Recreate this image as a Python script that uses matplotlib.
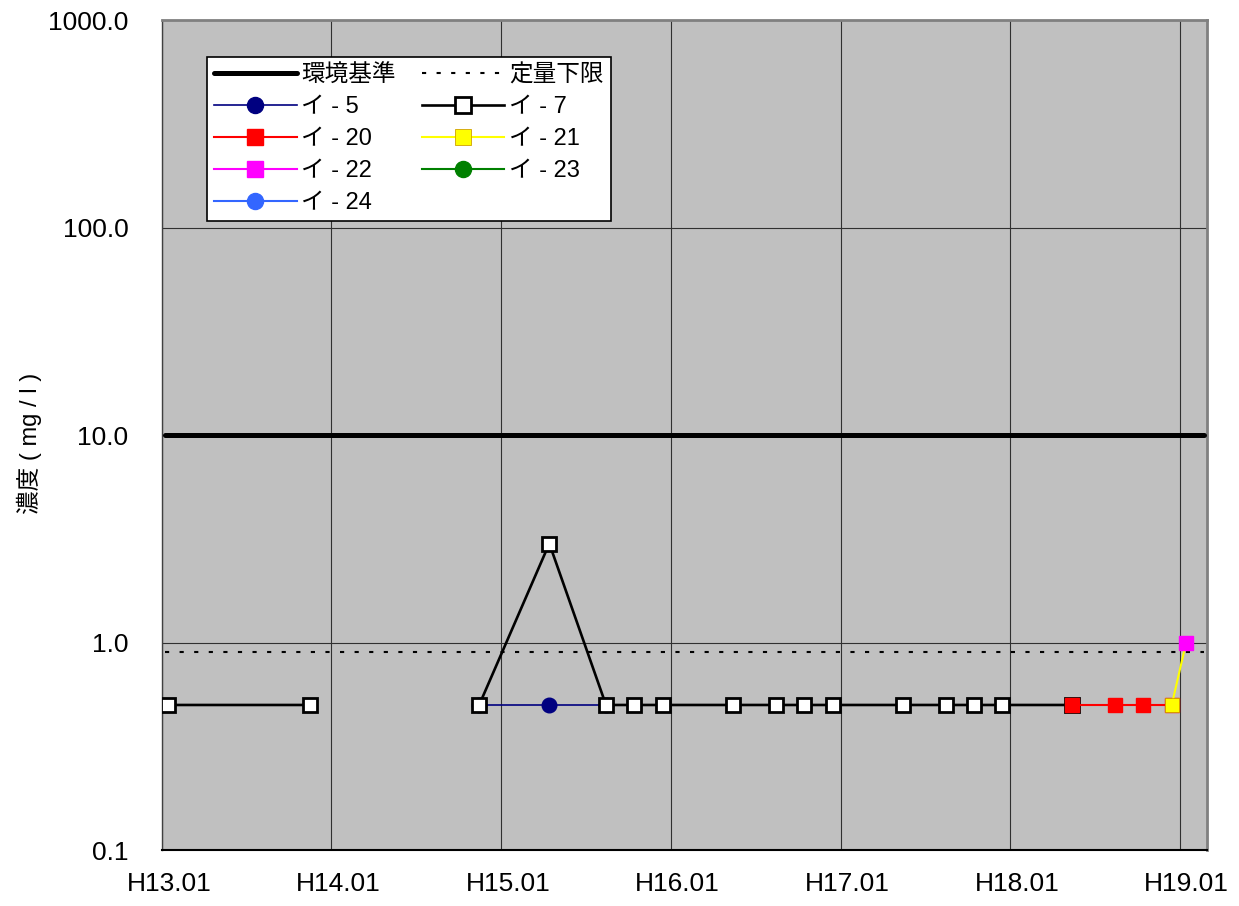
import numpy as np
import matplotlib
matplotlib.use('Agg')
import matplotlib.pyplot as plt
import matplotlib.transforms as mtransforms
from matplotlib.ticker import FixedLocator, FixedFormatter, NullLocator

plt.rcParams['font.family'] = ['Liberation Sans', 'Noto Sans CJK JP', 'DejaVu Sans']

# 基準線 (mg/l)
std_dates = ['2001-01-07', '2007-02-22']
env_std = [10.0, 10.0]      # 環境基準
quant_lim = [0.9, 0.9]      # 定量下限

# 井戸ごとの測定値 (mg/l)、NaN は欠測
i5_dates = ['2002-11-15', '2003-04-15', '2003-08-15']
i5_vals = [0.5, 0.5, 0.5]

i7_dates = ['2001-01-15', '2001-11-15', '2002-05-15', '2002-11-15', '2003-04-15',
            '2003-08-15', '2003-10-15', '2003-12-15', '2004-05-15', '2004-08-15',
            '2004-10-15', '2004-12-15', '2005-05-15', '2005-08-15', '2005-10-15',
            '2005-12-15', '2006-05-15']
i7_vals = [0.5, 0.5, np.nan, 0.5, 3.0,
           0.5, 0.5, 0.5, 0.5, 0.5,
           0.5, 0.5, 0.5, 0.5, 0.5,
           0.5, 0.5]

i20_dates = ['2006-05-15', '2006-08-15', '2006-10-15', '2006-12-15']
i20_vals = [0.5, 0.5, 0.5, 0.5]

i21_dates = ['2006-12-15', '2007-01-15']
i21_vals = [0.5, 1.0]

i22_dates = ['2007-01-15']
i22_vals = [1.0]

i23_dates, i23_vals = [], []
i24_dates, i24_vals = [], []

tick_dates = ['2001-01-01', '2002-01-01', '2003-01-01', '2004-01-01',
              '2005-01-01', '2006-01-01', '2007-01-01']
tick_labels = ['H13.01', 'H14.01', 'H15.01', 'H16.01', 'H17.01', 'H18.01', 'H19.01']
y_ticks = [0.1, 1.0, 10.0, 100.0, 1000.0]


def d(lst):
    return np.array(lst, dtype='datetime64[D]')


fig = plt.figure(figsize=(12.39, 9.06), dpi=100)
ax = fig.add_axes([0.1307, 0.0618, 0.8435, 0.9161])
ax.set_facecolor('#C0C0C0')

h_env, = ax.plot(d(std_dates), env_std, color='black', lw=3.6,
                 solid_capstyle='round', label='環境基準', zorder=3)
h_lim, = ax.plot(d(std_dates), quant_lim, color='black', lw=1.5,
                 dashes=(2, 5), label='定量下限', zorder=3)

mk = dict(ms=10.5)
h5, = ax.plot(d(i5_dates), i5_vals, color='#000080', lw=1.2, marker='o',
              mfc='#000080', mec='#000080', label='イ - 5', zorder=4, **mk)
h7, = ax.plot(d(i7_dates), i7_vals, color='black', lw=1.9, marker='s',
              mfc='white', mec='black', mew=2, label='イ - 7', zorder=5, **mk)
h20, = ax.plot(d(i20_dates), i20_vals, color='red', lw=1.5, marker='s',
               mfc='red', mec='red', label='イ - 20', zorder=6, **mk)
h21, = ax.plot(d(i21_dates), i21_vals, color='yellow', lw=1.5, marker='s',
               mfc='yellow', mec='#D0A000', mew=0.6, label='イ - 21', zorder=7, **mk)
h22, = ax.plot(d(i22_dates), i22_vals, color='magenta', lw=1.5, marker='s',
               mfc='magenta', mec='magenta', label='イ - 22', zorder=8, **mk)
h23, = ax.plot(d(i23_dates) if i23_dates else [], i23_vals, color='#008000', lw=1.5,
               marker='o', mfc='#008000', mec='#008000', label='イ - 23', **mk)
h24, = ax.plot(d(i24_dates) if i24_dates else [], i24_vals, color='#3366FF', lw=1.5,
               marker='o', mfc='#3366FF', mec='#3366FF', label='イ - 24', **mk)

ax.set_yscale('log')
ax.set_ylim(0.1, 1000)
ax.set_xlim(np.datetime64('2001-01-01'), np.datetime64('2007-03-01'))

ax.xaxis.set_major_locator(FixedLocator(matplotlib.dates.date2num(d(tick_dates))))
ax.xaxis.set_major_formatter(FixedFormatter(tick_labels))
ax.yaxis.set_major_locator(FixedLocator(y_ticks))
ax.yaxis.set_major_formatter(FixedFormatter([f'{v:.1f}' for v in y_ticks]))
ax.yaxis.set_minor_locator(NullLocator())
ax.tick_params(axis='both', length=0, labelsize=19)
ax.tick_params(axis='x', pad=16)
ax.tick_params(axis='y', pad=24)

# 年ラベルを少し右へ
shift = mtransforms.ScaledTranslation(7 / 100, 0, fig.dpi_scale_trans)
for lab in ax.get_xticklabels():
    lab.set_transform(lab.get_transform() + shift)

ax.grid(True, color='#303030', lw=0.8, zorder=1)
ax.set_axisbelow(True)

for side in ['top', 'right']:
    ax.spines[side].set_color('#808080')
    ax.spines[side].set_linewidth(2)
ax.spines['left'].set_color('#404040')
ax.spines['left'].set_linewidth(1)
ax.spines['bottom'].set_color('black')
ax.spines['bottom'].set_linewidth(1.5)

ax.set_ylabel('濃度 ( mg / l )', fontsize=17)
ax.yaxis.set_label_coords(-0.115, 0.49)

# 2列の凡例を行方向に並べる
handles = [h_env, h5, h20, h22, h24, h_lim, h7, h21, h23]
leg = ax.legend(handles=handles, labels=[h.get_label() for h in handles],
                ncol=2, loc='upper left', bbox_to_anchor=(0.043, 0.955),
                borderaxespad=0, fontsize=17, frameon=True, fancybox=False,
                edgecolor='black', framealpha=1, handlelength=3.5,
                handletextpad=0.2, labelspacing=0.42, columnspacing=1.1,
                borderpad=0.3, markerscale=1.1)
leg.get_frame().set_linewidth(1.2)
leg.set_zorder(10)

fig.savefig('out.png', dpi=100)
